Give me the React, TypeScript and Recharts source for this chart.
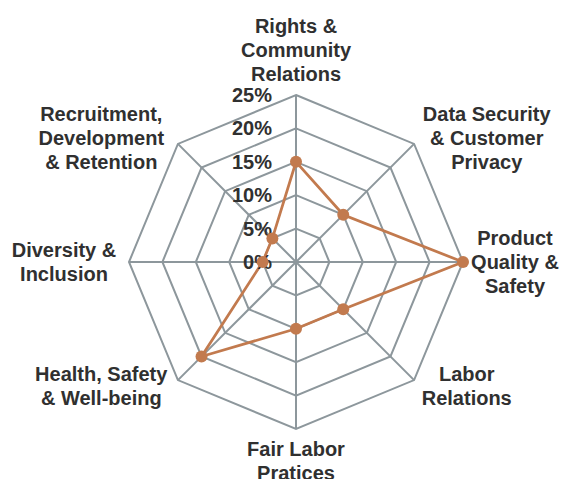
import React from 'react';
import {
  RadarChart,
  Radar,
  PolarGrid,
  PolarAngleAxis,
  PolarRadiusAxis
} from 'recharts';

// categories, clockwise from the top
const categories = [
  'Rights &\nCommunity\nRelations',
  'Data Security\n& Customer\nPrivacy',
  'Product\nQuality &\nSafety',
  'Labor\nRelations',
  'Fair Labor\nPratices',
  'Health, Safety\n& Well-being',
  'Diversity &\nInclusion',
  'Recruitment,\nDevelopment\n& Retention'
];

// share of issues, in percent
const shares = [15, 10, 25, 10, 10, 20, 5, 5];

const radiusTicks = [0, 5, 10, 15, 20, 25];

// where each category label sits, relative to the axis tick point
const labelOffsets = [
  [0, -37],
  [67, 0],
  [44, 0],
  [47, 0],
  [0, 24],
  [-71, 0],
  [-57, 0],
  [-71, 0]
];

const data = categories.map((name, i) => ({ name, value: shares[i] }));

const FONT = '"Liberation Sans", Arial, sans-serif';
const TEXT = '#303030';
const GRID = '#8d979c';
const SERIES = '#c27a4e';
const LINE_H = 24;

const AngleTick = (props: any) => {
  const { x, y, payload, index } = props;
  const [dx, dy] = labelOffsets[index] || [0, 0];
  const lines = String(payload.value).split('\n');
  const cx = x + dx;
  const cy = y + dy;
  return (
    <text
      textAnchor="middle"
      fontFamily={FONT}
      fontWeight={700}
      fontSize={20}
      fill={TEXT}
    >
      {lines.map((line, i) => (
        <tspan
          key={i}
          x={cx}
          y={cy + (i - (lines.length - 1) / 2) * LINE_H + 7}
        >
          {line}
        </tspan>
      ))}
    </text>
  );
};

const RadiusTick = (props: any) => {
  const { x, y, payload } = props;
  return (
    <text
      x={x - 24}
      y={y + 7}
      textAnchor="end"
      fontFamily={FONT}
      fontWeight={700}
      fontSize={20}
      fill={TEXT}
    >
      {`${payload.value}%`}
    </text>
  );
};

export default function App() {
  return (
    <div style={{ position: 'absolute', left: 0, top: 0, background: '#fff' }}>
      <RadarChart
        width={563}
        height={479}
        data={data}
        cx={296}
        cy={262}
        outerRadius={167}
        margin={{ top: 0, right: 0, bottom: 0, left: 0 }}
      >
        <PolarGrid gridType="polygon" stroke={GRID} strokeWidth={2} strokeOpacity={1} />
        <PolarAngleAxis
          dataKey="name"
          tick={<AngleTick />}
          tickLine={false}
          axisLine={false}
        />
        <Radar
          dataKey="value"
          stroke={SERIES}
          strokeWidth={2.75}
          fill="none"
          fillOpacity={0}
          dot={{ r: 6, fill: SERIES, stroke: 'none', fillOpacity: 1 }}
          isAnimationActive={false}
        />
        <PolarRadiusAxis
          angle={90}
          domain={[0, 25]}
          ticks={radiusTicks as any}
          tickCount={6}
          tick={<RadiusTick />}
          tickLine={false}
          axisLine={false}
        />
      </RadarChart>
    </div>
  );
}
